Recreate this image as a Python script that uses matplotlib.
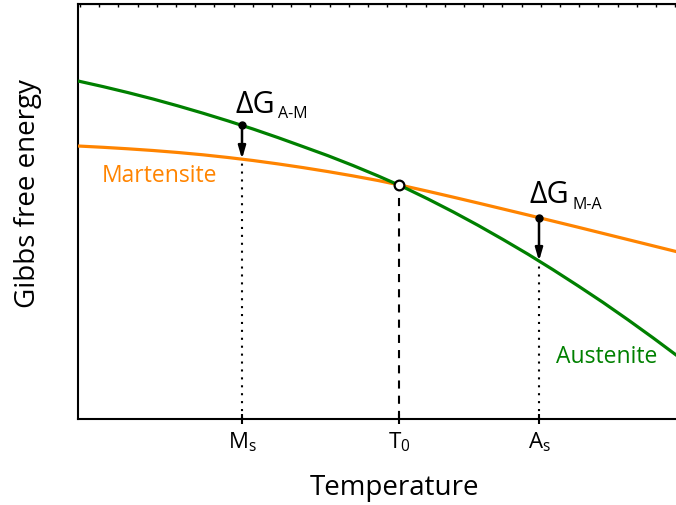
import numpy as np
import matplotlib
matplotlib.use("Agg")
import matplotlib.pyplot as plt

# =====================================================
#   data (arbitrary units)
# =====================================================

temps = [0, 25, 50, 75, 100, 125, 150, 175, 200, 225, 250, 275, 300,
         325, 350, 375, 400, 425, 450, 475, 500, 525, 550, 575, 600]
g_austenite = [338, 332.4, 326.4, 320.0, 313.1, 305.8, 298.1, 290.0, 281.4,
               272.4, 263.3, 253.5, 243.1, 232.1, 220.0, 207.2, 193.7, 179.5,
               164.8, 149.3, 133.2, 116.6, 99.2, 81.2, 62.6]
g_martensite = [273, 271.7, 270.2, 268.5, 266.5, 264.2, 261.5, 258.5, 255.1,
                251.4, 247.4, 243.1, 238.5, 233.3, 227.7, 221.9, 216.0, 210.0,
                204.0, 197.9, 191.8, 185.6, 179.4, 173.2, 167.0]

# characteristic temperatures
t_ms, t_t0, t_as = 164, 321, 461
tick_labels = [r"M$_\mathrm{s}$", r"T$_\mathrm{0}$", r"A$_\mathrm{s}$"]

# energies at the marks
g_ms_aus, g_ms_mar = 294, 260
g_as_mar, g_as_aus = 201, 158
g_t0 = 234

green = "#008000"
orange = "#ff8400"

plt.rcParams["font.family"] = ["Open Sans", "DejaVu Sans"]
plt.rcParams["mathtext.fontset"] = "custom"
plt.rcParams["mathtext.rm"] = "Open Sans"

fig = plt.figure(figsize=(6.76, 5.06), dpi=100)
ax = fig.add_axes([78 / 676, 1 - 420 / 506, 598 / 676, 415 / 506])

# curves
ax.plot(temps, g_martensite, color=orange, lw=2.3, solid_capstyle="butt", zorder=3)
ax.plot(temps, g_austenite, color=green, lw=2.3, solid_capstyle="butt", zorder=3)

# vertical guide lines
ax.plot([t_ms, t_ms], [0, g_ms_mar], color="black", lw=1.5,
        dashes=(1, 2.8), zorder=2)
ax.plot([t_as, t_as], [0, g_as_aus], color="black", lw=1.5,
        dashes=(1, 2.8), zorder=2)
ax.plot([t_t0, t_t0], [0, g_t0], color="black", lw=1.5,
        dashes=(3.9, 3.4), zorder=2)

# driving force arrows
arrow = dict(arrowstyle="-|>,head_length=0.75,head_width=0.22", color="black",
             lw=1.8, shrinkA=0, shrinkB=0)
ax.annotate("", xy=(t_ms, g_ms_mar), xytext=(t_ms, g_ms_aus), arrowprops=arrow, zorder=4)
ax.annotate("", xy=(t_as, g_as_aus), xytext=(t_as, g_as_mar), arrowprops=arrow, zorder=4)
ax.plot([t_ms, t_as], [g_ms_aus, g_as_mar], "o", color="black", ms=5, zorder=5)
ax.plot([t_t0], [g_t0], "o", mfc="white", mec="black", mew=1.6, ms=7, zorder=5)

# labels
ax.text(158, 307, "ΔG", fontsize=22, va="baseline")
ax.text(200, 302, "A-M", fontsize=11.5, va="baseline")
ax.text(451, 217, "ΔG", fontsize=22, va="baseline")
ax.text(494, 211, "M-A", fontsize=11.5, va="baseline")
ax.text(24, 238, "Martensite", fontsize=16.5, color=orange, va="baseline")
ax.text(478, 57, "Austenite", fontsize=16.5, color=green, va="baseline")

# axes styling
ax.set_xlim(0, 598)
ax.set_ylim(0, 415)
ax.spines["right"].set_visible(False)
for s in ["left", "bottom", "top"]:
    ax.spines[s].set_linewidth(1.5)
ax.set_yticks([])
ax.set_xticks([t_ms, t_t0, t_as])
ax.set_xticklabels(tick_labels, fontsize=16)
ax.tick_params(axis="x", direction="inout", length=7, width=1.5, pad=4)

top = ax.secondary_xaxis("top")
top.set_xticks(np.arange(2, 598, 19.2))
top.set_xticklabels([])
top.tick_params(direction="in", length=2.5, width=1)

ax.set_xlabel("Temperature", fontsize=20)
ax.set_ylabel("Gibbs free energy", fontsize=20)
ax.xaxis.set_label_coords((394 - 78) / 598, -(488 - 420) / 415)
ax.yaxis.set_label_coords(-(78 - 28) / 598, (420 - 194) / 415)
ax.xaxis.label.set_va("center")
ax.yaxis.label.set_va("center")

plt.savefig("out.png", dpi=100)
plt.close()
